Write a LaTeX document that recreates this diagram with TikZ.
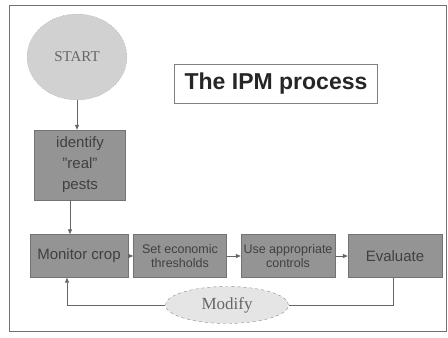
\documentclass[tikz,border=0pt]{standalone}
\usepackage{fontspec}
\setmainfont{Liberation Serif}
\setsansfont{Liberation Sans}
\usetikzlibrary{positioning,arrows.meta,shapes.geometric,calc}

\begin{document}
\begin{tikzpicture}[x=1pt, y=-1pt,
  every node/.style={font=\sffamily},
  stepbox/.style={draw=black!55, fill=black!42, text=black!75, minimum height=43, inner sep=1pt, align=center},
  oval/.style={ellipse, draw=black!45, text=black!60, font=\rmfamily},
  line/.style={draw=black!60, line width=0.8pt},
  link/.style={line, -{Triangle[length=5pt,width=4pt]}}
]
\useasboundingbox (0,0) rectangle (448,338);
\fill[white] (0,0) rectangle (448,338);
\draw[black!55, line width=1pt] (9,5) rectangle (446,331);

\node[oval, dotted, fill=black!18, minimum width=100, minimum height=86, font=\rmfamily\fontsize{15}{18}\selectfont] (start) at (77,57) {START};
\node[draw=black!50, minimum width=203, minimum height=39, text=black!85, font=\sffamily\bfseries\fontsize{23}{26}\selectfont] (title) at (276,84) {The IPM process};

\node[stepbox, minimum width=91, minimum height=70, font=\sffamily\fontsize{15}{21}\selectfont] (identify) at (80,165) {identify\\"real"\\pests};

\node[stepbox, minimum width=98, font=\sffamily\fontsize{15}{18}\selectfont] (monitor) at (79,256) {Monitor crop};
\node[stepbox, minimum width=93, font=\sffamily\fontsize{12.5}{14.5}\selectfont] (thresh) at (180,256) {Set economic\\thresholds};
\node[stepbox, minimum width=94, font=\sffamily\fontsize{12.5}{14.5}\selectfont] (controls) at (288,256) {Use appropriate\\controls};
\node[stepbox, minimum width=94, font=\sffamily\fontsize{15}{18}\selectfont] (evaluate) at (395,256) {Evaluate};

\node[oval, dashed, fill=black!10, minimum width=123, minimum height=37, font=\rmfamily\fontsize{17}{20}\selectfont] (modify) at (227,305) {Modify};

\draw[link] (start) -- (start |- identify.north);
\draw[link] ([xshift=-10pt]identify.south) -- ([xshift=-10pt]identify.south |- monitor.north);
\draw[link] (monitor) -- (thresh);
\draw[link] (thresh) -- (controls);
\draw[link] (controls) -- (evaluate);
\draw[line] ([xshift=-2pt]evaluate.south) |- (modify);
\draw[link] (modify) -| ([xshift=-12pt]monitor.south);
\end{tikzpicture}
\end{document}
